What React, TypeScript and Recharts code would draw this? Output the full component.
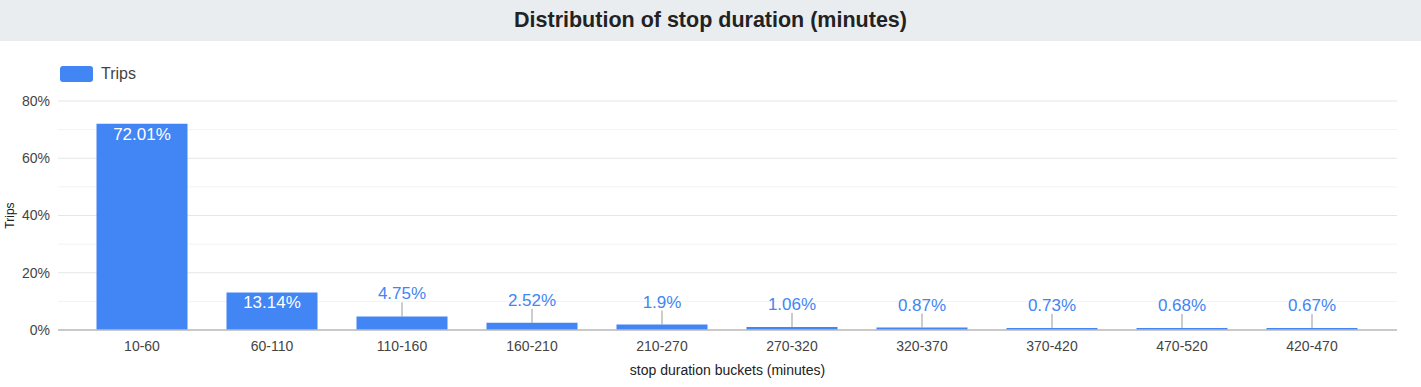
import React from 'react';
import { BarChart, Bar, XAxis, YAxis, CartesianGrid, LabelList, Label } from 'recharts';

const buckets = ['10-60', '60-110', '110-160', '160-210', '210-270', '270-320', '320-370', '370-420', '470-520', '420-470'];
const tripShares = [72.01, 13.14, 4.75, 2.52, 1.9, 1.06, 0.87, 0.73, 0.68, 0.67];
const majorTicks = [0, 20, 40, 60, 80];
const minorTicks = [10, 30, 50, 70];

const data = buckets.map((bucket, i) => ({ bucket, trips: tripShares[i] }));

const FONT = "Arial, 'Liberation Sans', sans-serif";
const BLUE = '#4285f4';

// big bars get the value inside, small ones get it above with a little stem
const BarValue = (props: any) => {
  const { x, y, width, value } = props;
  const cx = x + width / 2;
  const text = `${value}%`;
  if (value > 10) {
    return (
      <text x={cx} y={y + 16} textAnchor="middle" fill="#fff" fontSize={17} fontFamily={FONT}>
        {text}
      </text>
    );
  }
  return (
    <g>
      <line x1={cx} y1={y} x2={cx} y2={y - 14} stroke="#999" strokeWidth={1} />
      <text x={cx} y={y - 17} textAnchor="middle" fill={BLUE} fontSize={17} fontFamily={FONT}>
        {text}
      </text>
    </g>
  );
};

const YTitle = (props: any) => {
  const { viewBox } = props;
  const cy = viewBox.y + viewBox.height / 2;
  return (
    <text x={14} y={cy} transform={`rotate(-90, 14, ${cy})`} textAnchor="middle" fill="#222" fontSize={12} fontFamily={FONT}>
      Trips
    </text>
  );
};

export default function App() {
  return (
    <div style={{ position: 'absolute', left: 0, top: 0, width: 1421, height: 387, background: '#fff', fontFamily: FONT }}>
      <div
        style={{
          height: 41,
          background: '#e9edf0',
          textAlign: 'center',
          fontWeight: 'bold',
          fontSize: 21.5,
          lineHeight: '41px',
          color: '#222',
        }}
      >
        Distribution of stop duration (minutes)
      </div>
      <div style={{ position: 'absolute', left: 60, top: 65, display: 'flex', alignItems: 'center' }}>
        <div style={{ width: 33, height: 16, background: BLUE, borderRadius: 3 }} />
        <span style={{ marginLeft: 8, fontSize: 16, color: '#444' }}>Trips</span>
      </div>
      <div style={{ position: 'absolute', left: 0, top: 41 }}>
        <BarChart width={1421} height={346} data={data} margin={{ top: 60, right: 24, left: 0, bottom: 0 }} barCategoryGap="15%">
          <CartesianGrid vertical={false} horizontalValues={minorTicks} stroke="#f3f3f3" />
          <CartesianGrid vertical={false} horizontalValues={majorTicks} stroke="#e6e6e6" />
          <XAxis
            dataKey="bucket"
            height={57}
            padding={{ left: 19, right: 20 }}
            tickLine={false}
            tickMargin={5}
            axisLine={{ stroke: '#bbb', strokeWidth: 1.5 }}
            tick={{ fill: '#444', fontSize: 14, fontFamily: FONT }}
          >
            <Label value="stop duration buckets (minutes)" position="insideBottom" offset={12} fill="#222" fontSize={14} fontFamily={FONT} />
          </XAxis>
          <YAxis
            width={58}
            domain={[0, 80]}
            ticks={majorTicks}
            axisLine={false}
            tickLine={false}
            tick={{ fill: '#444', fontSize: 14, fontFamily: FONT }}
            tickFormatter={(v) => `${v}%`}
          >
            <Label content={<YTitle />} />
          </YAxis>
          <Bar dataKey="trips" fill={BLUE} isAnimationActive={false}>
            <LabelList dataKey="trips" content={<BarValue />} />
          </Bar>
        </BarChart>
      </div>
    </div>
  );
}
